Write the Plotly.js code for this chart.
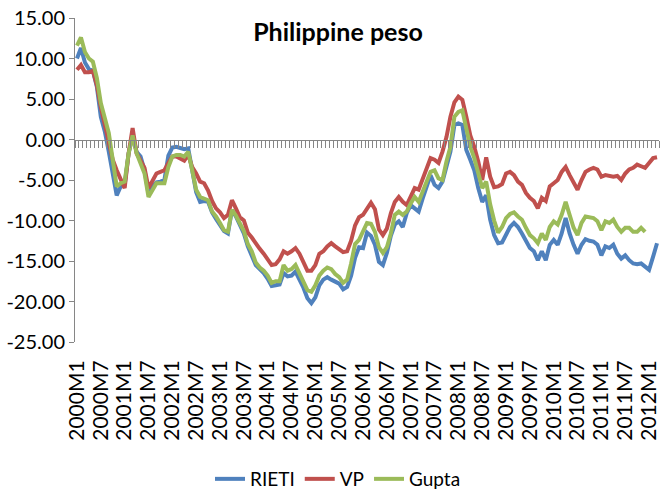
<!DOCTYPE html>
<html>
<head>
<meta charset="utf-8">
<script src="https://cdn.plot.ly/plotly-3.0.1.min.js"></script>
<style>html,body{margin:0;padding:0;background:#fff}#chart{width:661px;height:494px}</style>
</head>
<body>
<div id="chart"></div>
<script>
// Month categories 2000M1 .. 2012M3
const months = [];
for (let y = 2000; y <= 2012; y++) {
  for (let m = 1; m <= 12; m++) {
    if (y === 2012 && m > 3) break;
    months.push(y + 'M' + m);
  }
}
const xTickLabels = months.filter(s => /M(1|7)$/.test(s));
const yTickVals = [15, 10, 5, 0, -5, -10, -15, -20, -25];
const yTickLabels = ['15.00', '10.00', '5.00', '0.00', '-5.00', '-10.00', '-15.00', '-20.00', '-25.00'];

const rieti = [10.0,11.3,9.5,8.7,8.5,6.5,2.8,1.0,-1.5,-4.0,-6.9,-5.8,-5.6,-1.7,0.5,-1.5,-2.1,-3.8,-6.7,-5.8,
-5.3,-5.2,-5.0,-2.0,-1.0,-0.9,-1.0,-1.2,-1.1,-3.5,-6.5,-7.7,-7.6,-7.7,-9.0,-9.8,-10.5,-11.3,-11.6,-8.7,
-9.5,-10.7,-11.6,-13.2,-14.3,-15.5,-16.0,-16.5,-17.2,-18.1,-18.0,-17.9,-16.5,-16.9,-16.8,-16.3,-17.3,-18.3,-19.6,-20.2,
-19.5,-18.0,-17.3,-17.0,-17.3,-17.6,-17.8,-18.5,-18.2,-16.8,-14.6,-13.3,-13.4,-11.5,-11.9,-13.0,-15.1,-15.5,-14.0,-11.9,
-10.5,-10.1,-10.8,-9.1,-8.1,-8.5,-8.9,-7.3,-5.8,-4.4,-5.6,-6.0,-5.2,-3.4,-1.5,1.8,2.0,1.8,-1.3,-2.5,
-3.8,-6.0,-7.7,-6.9,-9.9,-11.8,-12.8,-12.7,-11.8,-10.8,-10.3,-10.8,-11.6,-12.4,-13.4,-13.8,-14.9,-13.8,-14.9,-13.0,
-12.4,-13.0,-11.6,-9.7,-11.6,-13.0,-14.1,-13.0,-12.3,-12.5,-12.6,-13.0,-14.3,-13.2,-13.4,-13.0,-14.1,-14.7,-14.3,-14.9,
-15.3,-15.4,-15.3,-15.7,-16.1,-14.5,-12.8];

const vp = [8.6,9.2,8.3,8.3,8.5,6.7,4.0,2.0,-0.1,-2.5,-3.8,-4.8,-6.0,-1.7,1.4,-1.7,-2.5,-3.5,-6.0,-5.0,
-4.2,-4.0,-3.8,-2.9,-2.1,-2.1,-2.3,-2.6,-1.9,-3.4,-4.2,-5.2,-5.4,-6.3,-7.6,-8.5,-9.0,-9.7,-9.3,-7.5,
-8.5,-9.6,-10.0,-11.5,-12.1,-12.9,-13.5,-14.1,-14.9,-15.5,-15.4,-14.8,-13.8,-14.1,-13.8,-13.4,-14.1,-15.2,-16.2,-16.2,
-15.5,-14.1,-13.8,-13.2,-12.8,-13.2,-13.5,-13.9,-13.8,-12.5,-10.6,-9.6,-9.3,-8.5,-7.8,-8.6,-11.1,-11.8,-11.0,-9.1,
-7.7,-7.1,-7.7,-8.1,-6.9,-6.0,-6.2,-5.0,-3.6,-2.3,-2.5,-2.9,-1.5,0.3,2.8,4.6,5.3,4.9,2.8,0.5,
-0.9,-2.7,-5.0,-2.2,-4.6,-5.9,-5.8,-5.5,-4.2,-4.0,-4.4,-5.2,-5.6,-6.6,-7.2,-7.6,-8.5,-7.2,-7.6,-5.8,
-5.4,-5.0,-4.0,-3.4,-4.4,-5.4,-6.2,-5.0,-4.0,-3.7,-3.5,-3.7,-4.6,-4.4,-4.5,-4.6,-4.5,-5.0,-4.2,-3.7,
-3.5,-3.1,-3.3,-3.5,-2.9,-2.3,-2.2];

const gupta = [11.6,12.6,10.8,10.0,9.6,7.6,4.5,2.8,0.8,-2.5,-5.8,-5.4,-5.2,-1.7,0.5,-1.7,-2.8,-4.2,-7.1,-6.2,
-5.4,-5.4,-5.4,-3.4,-2.1,-1.9,-1.9,-2.1,-1.5,-3.8,-6.2,-7.1,-7.3,-7.5,-8.9,-9.5,-10.3,-11.2,-11.4,-8.7,
-9.4,-10.5,-11.3,-12.9,-13.8,-15.2,-15.8,-16.2,-16.8,-17.7,-17.5,-17.5,-15.5,-16.2,-16.0,-15.5,-16.6,-17.5,-18.6,-18.8,
-18.0,-16.8,-16.2,-15.8,-16.0,-16.6,-17.0,-17.7,-17.3,-15.3,-12.9,-12.4,-11.2,-10.3,-10.4,-11.4,-13.3,-14.0,-13.3,-11.6,
-9.3,-8.9,-9.3,-8.9,-7.9,-7.1,-7.7,-6.6,-5.2,-4.0,-3.8,-4.8,-5.0,-2.7,-0.9,2.8,3.4,3.6,1.4,-0.9,
-2.3,-4.0,-6.0,-5.2,-8.0,-10.0,-11.5,-10.8,-9.7,-9.2,-9.0,-9.5,-9.9,-10.9,-11.8,-12.2,-12.8,-11.6,-12.4,-10.8,
-10.1,-10.5,-9.3,-7.7,-9.5,-10.9,-11.8,-10.3,-9.5,-9.6,-9.7,-10.1,-11.2,-10.1,-10.3,-9.9,-10.8,-11.4,-10.9,-10.9,
-11.4,-11.4,-10.9,-11.4];

const FONT = 'Lato, "Open Sans", sans-serif';
const AXIS_GRAY = '#868686';

const traces = [
  {x: months, y: rieti, name: 'RIETI', type: 'scatter', mode: 'lines',
   line: {color: '#4F81BD', width: 4}},
  {x: months, y: vp, name: 'VP', type: 'scatter', mode: 'lines',
   line: {color: '#C0504D', width: 4}},
  {x: months.slice(0, gupta.length), y: gupta, name: 'Gupta', type: 'scatter', mode: 'lines',
   line: {color: '#9BBB59', width: 4}},
  {x: [], y: [], xaxis: 'x2', yaxis: 'y', showlegend: false, hoverinfo: 'skip', type: 'scatter', mode: 'lines'}
];

const layout = {
  width: 661, height: 494,
  margin: {l: 75, r: 2, t: 18, b: 152, pad: 0},
  paper_bgcolor: '#fff', plot_bgcolor: '#fff',
  font: {family: FONT, size: 20, color: '#000'},
  title: {text: '<b>Philippine peso</b>', font: {family: FONT, size: 25, color: '#000'},
          x: 338 / 661, xanchor: 'center', xref: 'container',
          y: 1 - 32 / 494, yanchor: 'middle', yref: 'container'},
  xaxis: {type: 'category', range: [-0.5, months.length - 0.5],
          tickmode: 'array', tickvals: xTickLabels, ticktext: xTickLabels,
          tickangle: -90, showgrid: false, zeroline: false, showline: false,
          ticks: 'outside', ticklen: 9, tickcolor: 'rgba(0,0,0,0)',
          tickfont: {family: FONT, size: 21, color: '#000'}},
  xaxis2: {overlaying: 'x', anchor: 'free', position: 0.625, type: 'linear',
           range: [-0.5, months.length - 0.5], showline: true, linecolor: AXIS_GRAY, linewidth: 1,
           ticks: 'outside', ticklen: 7, tickcolor: AXIS_GRAY, tickwidth: 1,
           tick0: -0.5, dtick: 1, showticklabels: false, showgrid: false, zeroline: false},
  yaxis: {range: [-25, 15], tickmode: 'array', tickvals: yTickVals, ticktext: yTickLabels,
          showline: true, linecolor: AXIS_GRAY, linewidth: 1,
          ticks: 'outside', ticklen: 5, tickcolor: AXIS_GRAY,
          showgrid: false, zeroline: false,
          tickfont: {family: FONT, size: 20, color: '#000'}},
  showlegend: true,
  legend: {orientation: 'h', x: 338 / 661, xref: 'container', xanchor: 'center',
           y: 1 - 479 / 494, yref: 'container', yanchor: 'middle',
           font: {family: FONT, size: 19, color: '#000'}, bgcolor: 'rgba(0,0,0,0)'}
};

Plotly.newPlot('chart', traces, layout, {displayModeBar: false, staticPlot: true});
</script>
</body>
</html>
